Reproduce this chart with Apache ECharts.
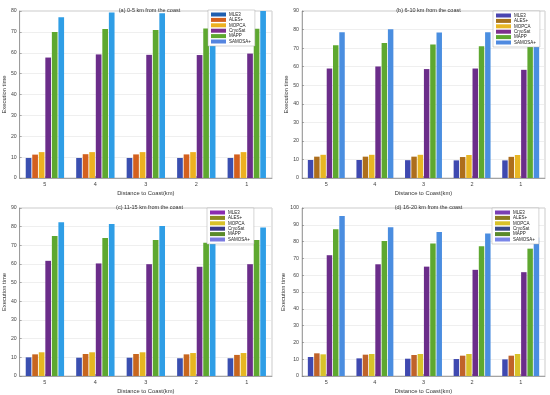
<!DOCTYPE html>
<html>
<head>
<meta charset="utf-8">
<script src="https://cdn.jsdelivr.net/npm/echarts@6/dist/echarts.min.js"></script>
<style>html,body{margin:0;padding:0;background:#fff}#c{width:550px;height:395px}</style>
</head>
<body>
<div id="c"></div>
<script>
const categories = ['5', '4', '3', '2', '1'];
const seriesNames = ['MLE3', 'ALES+', 'MOPCA', 'CryoSat', 'MAPP', 'SAMOSA+'];
const panelTitles = ['(a) 0-5 km from the coast', '(b) 6-10 km from the coast', '(c) 11-15 km from the coast', '(d) 16-20 km from the coast'];
const yMax = [80, 90, 90, 100];

// (a) 0-5 km
const mle3A = [9.6, 9.6, 9.6, 9.6, 9.6];
const alesA = [11.2, 11.4, 11.3, 11.3, 11.3];
const mopcaA = [12.4, 12.4, 12.4, 12.4, 12.4];
const cryoA = [57.7, 59.2, 59.0, 58.9, 59.6];
const mappA = [69.9, 71.4, 70.9, 71.6, 71.5];
const samosaA = [77.0, 79.3, 78.9, 79.5, 80.0];
// (b) 6-10 km
const mle3B = [9.7, 9.7, 9.6, 9.5, 9.5];
const alesB = [11.5, 11.5, 11.5, 11.3, 11.4];
const mopcaB = [12.5, 12.5, 12.5, 12.4, 12.4];
const cryoB = [59.0, 60.1, 58.7, 59.0, 58.3];
const mappB = [71.6, 72.8, 71.9, 71.0, 71.5];
const samosaB = [78.5, 80.2, 78.4, 78.5, 78.0];
// (c) 11-15 km
const mle3C = [10.0, 9.8, 9.8, 9.5, 9.5];
const alesC = [11.6, 11.8, 11.8, 11.6, 11.3];
const mopcaC = [12.7, 12.7, 12.7, 12.3, 12.3];
const cryoC = [61.7, 60.3, 59.9, 58.5, 59.9];
const mappC = [75.0, 73.9, 72.8, 71.4, 72.8];
const samosaC = [82.3, 81.4, 80.3, 79.3, 79.6];
// (d) 16-20 km
const mle3D = [11.3, 10.5, 10.3, 10.1, 9.9];
const alesD = [13.5, 12.7, 12.5, 12.1, 12.1];
const mopcaD = [12.9, 13.1, 13.1, 13.1, 13.1];
const cryoD = [71.9, 66.5, 65.1, 63.2, 61.8];
const mappD = [87.3, 80.4, 78.8, 77.2, 75.8];
const samosaD = [95.2, 88.5, 85.7, 84.8, 82.4];

const panelData = [
  [mle3A, alesA, mopcaA, cryoA, mappA, samosaA],
  [mle3B, alesB, mopcaB, cryoB, mappB, samosaB],
  [mle3C, alesC, mopcaC, cryoC, mappC, samosaC],
  [mle3D, alesD, mopcaD, cryoD, mappD, samosaD]
];

const barColors = [
  ['#3a4fb0', '#d4601e', '#edb120', '#6b2d8a', '#5ea830', '#2f9ee6'],
  ['#3f49b0', '#ad6e1c', '#e8b623', '#6b2d8a', '#5ea830', '#4a8ee0'],
  ['#3a4fb0', '#c8661f', '#e6b621', '#6b2d8a', '#5ea830', '#2f9ee6'],
  ['#3f49b0', '#c0632a', '#d8c22a', '#6b2d8a', '#5ea830', '#4a8de0']
];
const legendColors = [
  ['#1f5fb0', '#d4601e', '#edb120', '#7e2f8e', '#5ea830', '#5585e0'],
  ['#4a45b0', '#a8731c', '#e8b623', '#7e2f8e', '#5ea830', '#4f8ae0'],
  ['#8a2bb0', '#8a8a20', '#d8c22a', '#3a3a8a', '#5a8a2a', '#7a7ae0'],
  ['#7a3fb5', '#8a7a20', '#d8c22a', '#3a4a8a', '#5a8a2a', '#7a86e8']
];

const grids = [
  { left: 17, top: 11, width: 255, height: 167 },
  { left: 302, top: 11, width: 243, height: 167 },
  { left: 17, top: 208, width: 255, height: 168 },
  { left: 302, top: 208, width: 243, height: 168 }
];
const legendPos = [
  { left: 208, top: 10 },
  { left: 493, top: 11 },
  { left: 207, top: 208 },
  { left: 492, top: 208 }
];

const font = 'Liberation Sans, Arial, sans-serif';
const option = {
  backgroundColor: '#fff',
  animation: false,
  textStyle: { fontFamily: font },
  title: [], grid: [], xAxis: [], yAxis: [], legend: [], series: []
};

for (let p = 0; p < 4; p++) {
  const g = grids[p];
  option.grid.push(Object.assign({ show: true, borderColor: '#a8a8a8', borderWidth: 0.6, backgroundColor: 'rgba(0,0,0,0)' }, g));
  option.title.push({
    text: panelTitles[p],
    left: g.left + g.width / 2, top: g.top - 8.5, textAlign: 'center',
    textStyle: { fontSize: 5.5, fontWeight: 'normal', color: '#333', fontFamily: font }
  });
  option.xAxis.push({
    type: 'category', gridIndex: p, data: categories,
    name: 'Distance to Coast(km)', nameLocation: 'middle', nameGap: 12,
    nameTextStyle: { fontSize: 5.8, color: '#333' },
    axisLine: { lineStyle: { color: '#777', width: 0.6 } },
    axisTick: { show: true, inside: true, alignWithLabel: true, length: 2, lineStyle: { color: '#777', width: 0.6 } },
    axisLabel: { fontSize: 5.5, color: '#444', margin: 3 },
    splitLine: { show: false }
  });
  option.yAxis.push({
    type: 'value', gridIndex: p, min: 0, max: yMax[p], interval: 10,
    name: 'Execution time', nameLocation: 'middle', nameGap: 11, nameRotate: 90,
    nameTextStyle: { fontSize: 5.8, color: '#333' },
    axisLine: { show: true, lineStyle: { color: '#777', width: 0.6 } },
    axisTick: { show: true, inside: true, length: 2, lineStyle: { color: '#777', width: 0.6 } },
    axisLabel: { fontSize: 5.2, color: '#444', margin: 3 },
    splitLine: { show: true, lineStyle: { color: '#e4e4e4', width: 0.6 } }
  });
  option.legend.push({
    orient: 'vertical', left: legendPos[p].left, top: legendPos[p].top,
    data: seriesNames.map((n, i) => ({ name: n, itemStyle: { color: legendColors[p][i] } })),
    icon: 'rect', itemWidth: 15, itemHeight: 4, itemGap: 0.4,
    padding: [2, 4, 2, 3], borderColor: '#aaa', borderWidth: 0.5, backgroundColor: '#fff',
    textStyle: { fontSize: 4.5, color: '#222', padding: [0, 0, 0, -2] },
    selectedMode: false, z: 10
  });
  for (let s = 0; s < 6; s++) {
    option.series.push({
      type: 'bar', name: seriesNames[s], xAxisIndex: p, yAxisIndex: p,
      data: panelData[p][s],
      barGap: '15%', barCategoryGap: '24%',
      itemStyle: { color: barColors[p][s] },
      silent: true
    });
  }
}

const chart = echarts.init(document.getElementById('c'), null, { renderer: 'canvas' });
chart.setOption(option);
</script>
</body>
</html>
